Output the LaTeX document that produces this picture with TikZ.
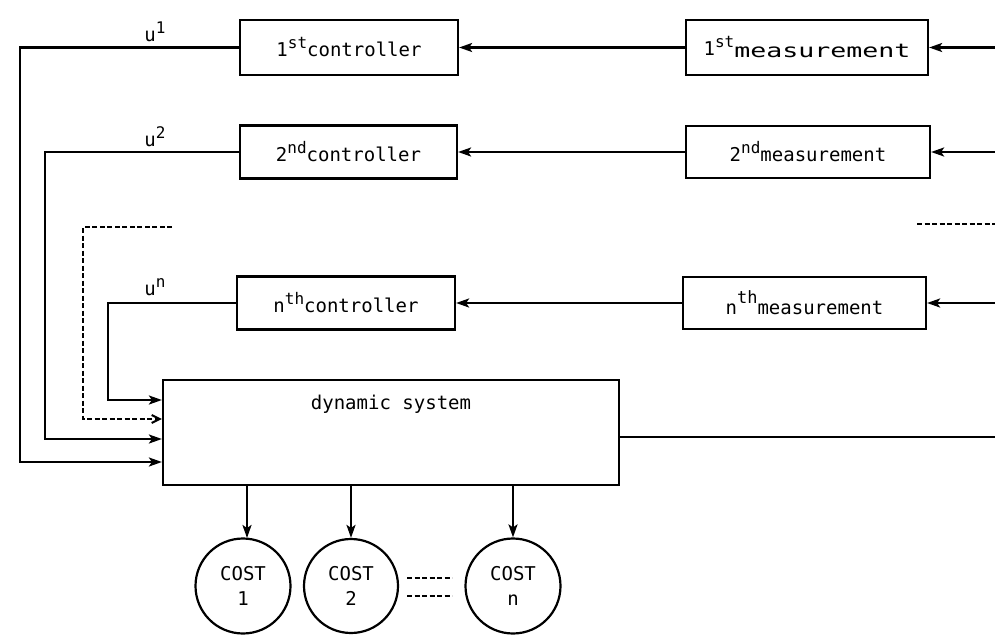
\documentclass[tikz,border=0pt]{standalone}
\usepackage{fontspec}
\setmainfont{DejaVu Sans Mono}
\usetikzlibrary{arrows.meta}
\newcommand{\sps}[1]{\raisebox{8pt}{\fontsize{16}{16}\selectfont #1}}
\begin{document}
\begin{tikzpicture}[x=1pt,y=1pt,
  every node/.style={font=\fontsize{19}{22}\selectfont},
  blk/.style={draw,line width=2.2pt,inner sep=0pt},
  costc/.style={draw,circle,line width=2.2pt,inner sep=0pt,minimum size=95pt,align=center,font=\fontsize{19}{25}\selectfont},
  ln/.style={line width=2.2pt},
  arr/.style={line width=2.2pt,-{Stealth[length=13pt,width=9pt,inset=3pt]}},
  darr/.style={line width=2pt,dash pattern=on 5pt off 2.5pt,-{Straight Barb[length=8pt,width=8pt]}},
  dsh/.style={line width=2pt,dash pattern=on 5pt off 2.5pt}]
\useasboundingbox (0,0) rectangle (995,-634);

% controllers
\node[blk,minimum width=218pt,minimum height=55pt] (c1) at (349,-47.5) {1\sps{st}controller};
\node[blk,minimum width=217pt,minimum height=53pt] (c2) at (348.5,-152) {2\sps{nd}controller};
\node[blk,minimum width=218pt,minimum height=53pt] (cn) at (346,-303) {n\sps{th}controller};
% measurements
\node[blk,minimum width=242pt,minimum height=55pt] (m1) at (807,-47.5) {1\sps{st}\raisebox{-2pt}{\scalebox{1.4}[1]{measurement}}};
\node[blk,minimum width=244pt,minimum height=52pt] (m2) at (808,-152) {2\sps{nd}measurement};
\node[blk,minimum width=243pt,minimum height=52pt] (mn) at (804.5,-303) {n\raisebox{11pt}{\fontsize{17}{17}\selectfont th}measurement};
% dynamic system
\node[blk,minimum width=456pt,minimum height=105pt] (dyn) at (391,-432.5) {};
\node (dyntxt) at (391,-404) {dynamic system};
% costs
\node[costc] (k1) at (243,-586) {COST\\1};
\node[costc,minimum size=94pt] (k2) at (351,-586) {COST\\2};
\node[costc] (kn) at (513,-586) {COST\\n};

% labels
\node (u1) at (155,-32) {u\sps{1}};
\node (u2) at (155,-137) {u\sps{2}};
\node (un) at (155,-287) {u\sps{n}};

% coordinates
\coordinate (r1) at (995,-47.5);
\coordinate (r2) at (995,-152);
\coordinate (rn) at (995,-303);
\coordinate (ro) at (995,-437);
\coordinate (i1) at (20,-462);
\coordinate (i2) at (45,-439);
\coordinate (id) at (83,-419);
\coordinate (in) at (108,-400);
\coordinate (ds) at (172,-227);
\coordinate (rd1) at (917,-224);
\coordinate (rd2) at (995,-224);
\coordinate (cd1) at (407,-578);
\coordinate (cd2) at (452,-578);
\coordinate (cd3) at (407,-596);
\coordinate (cd4) at (452,-596);

% measurement inputs
\draw[arr] (r1) -- (m1.east);
\draw[arr] (r2) -- (m2.east);
\draw[arr] (rn) -- (mn.east);
\draw[dsh] (rd1) -- (rd2);
% measurement to controller
\draw[arr] (m1.west) -- (c1.east);
\draw[arr] (m2.west) -- (c2.east);
\draw[arr] (mn.west) -- (cn.east);
% controller outputs
\draw[arr] (c1.west) -| (i1) -- (dyn.west |- i1);
\draw[arr] (c2.west) -| (i2) -- (dyn.west |- i2);
\draw[darr] (ds) -| (id) -- (dyn.west |- id);
\draw[arr] (cn.west) -| (in) -- (dyn.west |- in);
% system output
\draw[ln] (dyn.east |- ro) -- (ro);
% costs
\draw[arr] (dyn.south -| 247,0) -- (247,-538);
\draw[arr] (dyn.south -| k2.north) -- (k2.north);
\draw[arr] (dyn.south -| kn.north) -- (kn.north);
\draw[dsh] (cd1) -- (cd2);
\draw[dsh] (cd3) -- (cd4);
\end{tikzpicture}
\end{document}
